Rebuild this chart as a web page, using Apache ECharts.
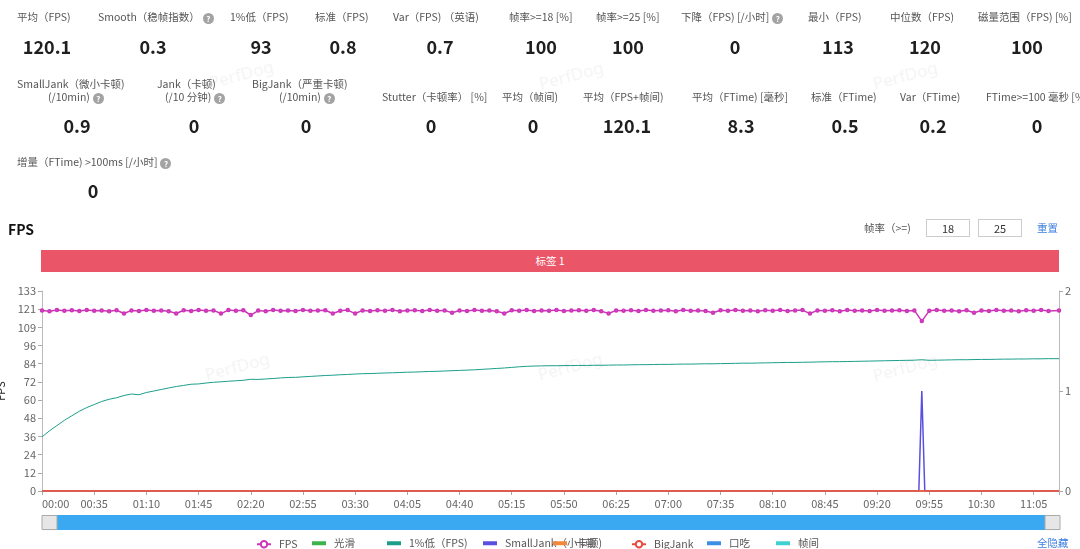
<!DOCTYPE html>
<html><head><meta charset="utf-8">
<script src="https://cdn.jsdelivr.net/npm/echarts@6/dist/echarts.min.js"></script>
<style>
body{margin:0;width:1080px;height:549px;overflow:hidden;background:#fff;font-family:"Noto Sans CJK SC","Noto Sans",sans-serif;position:relative}
#chart{position:absolute;left:0;top:0;width:1080px;height:549px}
.lab{position:absolute;font-size:10.5px;color:#555;white-space:nowrap;line-height:14px;z-index:2}
.val{position:absolute;font-size:18px;font-weight:bold;color:#1f1f1f;white-space:nowrap;line-height:24px;transform:translateX(-50%);z-index:2}
.q{display:inline-block;width:11px;height:11px;border-radius:50%;background:#a3a3a3;color:#fff;font-size:8px;line-height:11px;text-align:center;font-weight:bold;vertical-align:-1px;margin-left:3px}
.box{position:absolute;top:219px;width:44px;height:18px;border:1px solid #ccc;box-sizing:border-box;text-align:center;font-size:11px;line-height:16px;color:#333;z-index:2}
.wm{position:absolute;font-size:17px;color:rgba(0,0,0,0.05);transform:translate(-50%,-50%) rotate(-15deg);white-space:nowrap;z-index:3;pointer-events:none;font-family:"Noto Sans",sans-serif}
</style></head>
<body>
<div id="chart"></div>
<div id="overlay"></div>
<script>
// ---------- summary statistics ----------
const row1Labels = ['平均（FPS)','Smooth（稳帧指数）?','1%低（FPS)','标准（FPS)','Var（FPS) （英语)','帧率>=18 [%]','帧率>=25 [%]','下降（FPS) [/小时]?','最小（FPS)','中位数（FPS)','磁量范围（FPS) [%]'];
const row1Values = ['120.1','0.3','93','0.8','0.7','100','100','0','113','120','100'];
const row2LabelsTop = ['SmallJank（微小卡顿)','Jank（卡顿)','BigJank（严重卡顿)'];
const row2LabelsBottom = ['(/10min) ?','(/10 分钟) ?','(/10min) ?','Stutter（卡顿率） [%]','平均（帧间)','平均（FPS+帧间)','平均（FTime) [毫秒]','标准（FTime)','Var（FTime)','FTime>=100 毫秒 [%]'];
const row2Values = ['0.9','0','0','0','0','120.1','8.3','0.5','0.2','0'];
const row3Labels = ['增量（FTime) >100ms [/小时]?'];
const row3Values = ['0'];

// layout (pixels) kept separate from content
const row1LabelLeft = [17,98,230,315,393,509,596,681,808,890,978];
const row1ValueX = [47,153,261,343,440,541,628,735,838,925,1027];
const row2TopLeft = [17,157,252];
const row2BottomLeft = [48,165,279,382,502,583,692,811,900,986];
const row2ValueX = [77,194,306,431,533,627,741,845,933,1037];
const row3LabelLeft = [17];
const row3ValueX = [93];

// ---------- chart data ----------
const sampleTimes = [
0,5,10,15,20,25,30,35,40,45,
50,55,60,65,70,75,80,85,90,95,
100,105,110,115,120,125,130,135,140,145,
150,155,160,165,170,175,180,185,190,195,
200,205,210,215,220,225,230,235,240,245,
250,255,260,265,270,275,280,285,290,295,
300,305,310,315,320,325,330,335,340,345,
350,355,360,365,370,375,380,385,390,395,
400,405,410,415,420,425,430,435,440,445,
450,455,460,465,470,475,480,485,490,495,
500,505,510,515,520,525,530,535,540,545,
550,555,560,565,570,575,580,585,590,595,
600,605,610,615,620,625,630,635,640,645,
650,655,660,665,670,675,682];
const fpsValues = [
120,119.6,120.4,119.8,120.2,119.7,120.3,119.9,120.1,119.6,
120.2,118,120.1,119.7,120.3,119.8,120,119.6,118,120.2,
119.7,120.4,119.9,120.1,118,120.3,119.8,120.2,117,120,
119.6,120.3,119.9,120.1,119.7,120.4,119.8,120,120.2,118,
119.9,120.3,118,120.1,119.7,120.2,119.8,120.4,119.6,120,
120.2,119.7,120.3,119.9,120.1,118.5,120,119.7,120.3,119.8,
120.1,119.6,118,120.2,119.9,120.3,119.7,120.1,119.8,120.4,
119.7,120,120.2,119.8,120.3,119.6,118,120.1,119.9,120.2,
119.7,120.3,119.8,120,120.2,119.6,120.4,119.9,120.1,119.7,
118.5,120.2,119.8,120.3,119.9,120.1,119.6,120.2,119.8,120.4,
119.7,120,120.3,118,120.1,119.8,120.2,119.6,120.3,119.9,
120.1,119.7,120.4,119.8,120,120.2,119.7,120.1,113,119.8,
120.3,119.9,120.1,119.6,120.2,118.5,120,119.7,120.3,119.8,
120.1,119.6,120.2,119.9,120.3,119.7,120];
const low1Values = [
36,40,43.5,47,50,53,55.5,57.5,59.5,61,
62,63.5,64.5,64,65.5,66.5,67.5,68.5,69.5,70.2,
71,71.2,71.8,72.3,72.6,73,73.3,73.6,74.3,74.2,
74.5,74.8,75.2,75.5,75.6,75.9,76.2,76.5,76.8,77,
77.3,77.5,77.8,78,78.1,78.3,78.5,78.6,78.8,79,
79.1,79.3,79.5,79.6,79.8,80,80.2,80.4,80.6,80.9,
81.2,81.5,81.8,82.2,82.6,82.9,83.1,83.2,83.3,83.3,
83.4,83.4,83.5,83.5,83.6,83.6,83.7,83.8,83.8,83.9,
84,84,84.1,84.2,84.2,84.3,84.4,84.4,84.5,84.6,
84.6,84.7,84.8,84.9,85,85,85.1,85.2,85.3,85.4,
85.5,85.5,85.6,85.7,85.8,85.9,86,86,86.1,86.2,
86.3,86.4,86.5,86.6,86.7,86.8,86.9,87,87.3,86.9,
87,87.1,87.2,87.3,87.3,87.4,87.5,87.5,87.6,87.7,
87.7,87.8,87.8,87.9,87.9,88,88];
const smallJankTimes = [0,588,590,592,682];
const smallJankValues = [0,0,1,0,0];
const zeroTimes = [0,682];
const jankValues = [0,0];
const bigJankValues = [0,0];
const yTickLabels = ['0','12','24','36','48','60','72','84','96','109','121','133'];
const rightTickLabels = ['0','1','2'];
const seriesNames = ['FPS','光滑','1%低（FPS)','SmallJank（小卡顿)','卡顿','BigJank','口吃','帧间'];
const seriesColors = ['#cc35b8','#3cb44b','#1b9e8a','#5a4fe0','#f08a3a','#e84a3f','#3d8fe6','#40d0d0'];
const legendLeft = [256,312,387,483,553,631,707,776];
const legendWithMarker = [true,false,false,false,false,true,false,false];

// ---------- build overlay text ----------
const ov = document.getElementById('overlay');
function add(html, cls, left, top, extra){
  const d = document.createElement('div');
  d.className = cls; d.innerHTML = html;
  d.style.left = left + 'px'; d.style.top = top + 'px';
  if (extra) Object.assign(d.style, extra);
  ov.appendChild(d); return d;
}
function fmtLabel(s){
  s = s.replace(/&/g,'&amp;').replace(/</g,'&lt;').replace(/>/g,'&gt;');
  return s.endsWith('?') ? s.slice(0,-1).trimEnd() + '<span class="q">?</span>' : s;
}
row1Labels.forEach((s,i)=>add(fmtLabel(s),'lab',row1LabelLeft[i],10));
row1Values.forEach((s,i)=>add(s,'val',row1ValueX[i],34));
row2LabelsTop.forEach((s,i)=>add(fmtLabel(s),'lab',row2TopLeft[i],77));
row2LabelsBottom.forEach((s,i)=>add(fmtLabel(s),'lab',row2BottomLeft[i],90));
row2Values.forEach((s,i)=>add(s,'val',row2ValueX[i],113));
row3Labels.forEach((s,i)=>add(fmtLabel(s),'lab',row3LabelLeft[i],155));
row3Values.forEach((s,i)=>add(s,'val',row3ValueX[i],178));

add('FPS','lab',8,219,{fontSize:'14px',fontWeight:'bold',color:'#111',lineHeight:'20px'});
add('帧率（>=)','lab',864,221);
add('18','box',926,219);
add('25','box',978,219);
add('重置','lab',1037,221,{color:'#3d7fe0'});
add('标签 1','lab',41,250,{width:'1018px',height:'22px',lineHeight:'22px',background:'#ea5668',color:'#fff',textAlign:'center'});
add('全隐藏','lab',1037,536,{color:'#3d7fe0'});
[[241,74],[571,75],[905,75],[237,366],[570,366],[905,367]].forEach(p=>add('PerfDog','wm',p[0],p[1]));

// ---------- chart ----------
const chart = echarts.init(document.getElementById('chart'), null, {renderer:'canvas'});
const pair = (ts, vs) => ts.map((t,i)=>[t, vs[i]]);
const mmss = v => { const m = Math.floor(v/60), s = v%60; return String(m).padStart(2,'0')+':'+String(s).padStart(2,'0'); };
const step = 133/11;
const font = '"Noto Sans CJK SC","Noto Sans",sans-serif';

const legends = seriesNames.map((n,i)=>({
  data:[legendWithMarker[i] ? {name:n} : {name:n, icon:'rect'}],
  left: legendLeft[i], top: legendWithMarker[i] ? 539 : 538, padding:0,
  itemWidth:14, itemHeight: legendWithMarker[i] ? 8 : 4,
  textStyle:{fontSize:10.5, color:'#555', fontFamily:font, padding:[0,0,0,3]}, selectedMode:false
}));

chart.setOption({
  animation:false,
  textStyle:{fontFamily:font},
  grid:{left:42, right:21, top:291, bottom:58, containLabel:false, outerBoundsMode:'none'},
  legend: legends,
  xAxis:{type:'value', min:0, max:682, interval:35,
    axisLine:{show:true, lineStyle:{color:'#aaa'}},
    axisTick:{show:true, length:4, lineStyle:{color:'#aaa'}},
    axisLabel:{color:'#666', fontSize:11, margin:7, alignMinLabel:'left',
      formatter: v => (v % 35 === 0 ? mmss(v) : '')},
    splitLine:{show:false}},
  yAxis:[
    {type:'value', min:0, max:133, interval:step, name:'FPS', nameLocation:'middle', nameGap:36,
     nameTextStyle:{color:'#222', fontSize:11},
     axisLine:{show:true, lineStyle:{color:'#bbb'}},
     axisTick:{show:true, length:4, lineStyle:{color:'#aaa'}},
     axisLabel:{color:'#666', fontSize:11, margin:6, formatter: v => yTickLabels[Math.round(v/step)]},
     splitLine:{show:false}},
    {type:'value', min:0, max:2, interval:1, position:'right',
     axisLine:{show:true, lineStyle:{color:'#bbb'}},
     axisTick:{show:true, length:4, lineStyle:{color:'#aaa'}},
     axisLabel:{color:'#666', fontSize:11, margin:6, formatter: v => rightTickLabels[Math.round(v)]},
     splitLine:{show:false}}
  ],
  dataZoom:[{type:'slider', xAxisIndex:0, start:0, end:100, filterMode:'none',
    left:46, right:29, top:515, height:15, showDetail:false, brushSelect:false,
    backgroundColor:'#3aa9f2', fillerColor:'#3aa9f2', borderColor:'#3aa9f2', borderRadius:0,
    dataBackground:{lineStyle:{opacity:0}, areaStyle:{opacity:0}},
    selectedDataBackground:{lineStyle:{opacity:0}, areaStyle:{opacity:0}},
    handleIcon:'path://M0,0H16V15H0Z', handleSize:'100%',
    handleStyle:{color:'#e6e6e6', borderColor:'#aaa', borderWidth:1, shadowBlur:0},
    moveHandleSize:0, moveHandleStyle:{opacity:0},
    emphasis:{handleStyle:{color:'#e6e6e6', borderColor:'#aaa', shadowBlur:0}, moveHandleStyle:{opacity:0}}
  }],
  graphic:[
    {type:'group', left:46, top:519, silent:true, z:100, children:[
      {type:'line', shape:{x1:0,y1:0,x2:0,y2:7}, style:{stroke:'#777', lineWidth:1}},
      {type:'line', shape:{x1:3,y1:0,x2:3,y2:7}, style:{stroke:'#777', lineWidth:1}},
      {type:'line', shape:{x1:6,y1:0,x2:6,y2:7}, style:{stroke:'#777', lineWidth:1}}
    ]}
  ],
  series:[
    {name:seriesNames[0], type:'line', yAxisIndex:0, data:pair(sampleTimes,fpsValues),
     color:seriesColors[0], symbol:'emptyCircle', symbolSize:2.5, showAllSymbol:true,
     lineStyle:{width:1.5}, z:5},
    {name:seriesNames[1], type:'line', yAxisIndex:0, data:[], color:seriesColors[1], symbol:'none'},
    {name:seriesNames[2], type:'line', yAxisIndex:0, data:pair(sampleTimes,low1Values),
     color:seriesColors[2], symbol:'none', lineStyle:{width:1}},
    {name:seriesNames[3], type:'line', yAxisIndex:1, data:pair(smallJankTimes,smallJankValues),
     color:seriesColors[3], symbol:'none', lineStyle:{width:1.5}},
    {name:seriesNames[4], type:'line', yAxisIndex:1, data:pair(zeroTimes,jankValues),
     color:seriesColors[4], symbol:'none', lineStyle:{width:1.5}},
    {name:seriesNames[5], type:'line', yAxisIndex:1, data:pair(zeroTimes,bigJankValues),
     color:seriesColors[5], symbol:'emptyCircle', symbolSize:3, showSymbol:false, lineStyle:{width:1.5}},
    {name:seriesNames[6], type:'line', yAxisIndex:1, data:[], color:seriesColors[6], symbol:'none'},
    {name:seriesNames[7], type:'line', yAxisIndex:1, data:[], color:seriesColors[7], symbol:'none'}
  ]
});
</script>
</body></html>
